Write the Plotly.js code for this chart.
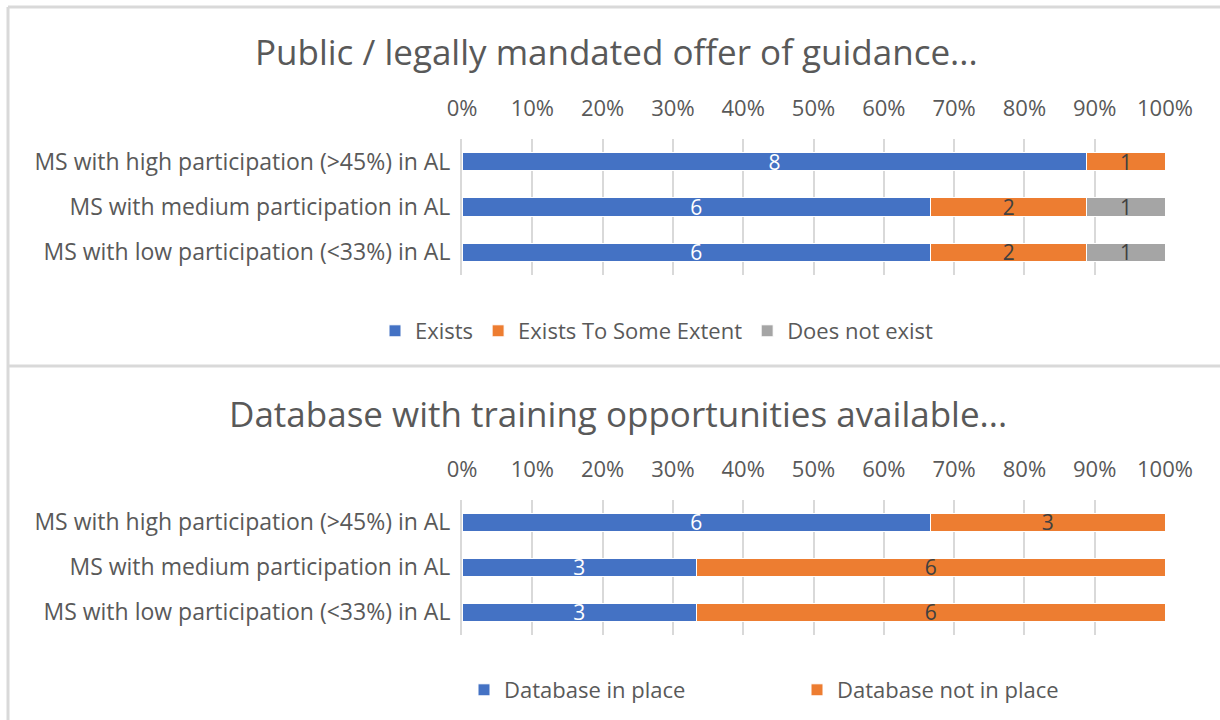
<!DOCTYPE html>
<html><head><meta charset="utf-8">
<script src="https://cdn.plot.ly/plotly-3.0.1.min.js"></script>
<style>html,body{margin:0;padding:0;background:#fff}#c{width:1220px;height:720px}</style>
</head><body><div id="c"></div>
<script>
const categories = ["MS with high participation (>45%) in AL","MS with medium participation in AL","MS with low participation (<33%) in AL"];
const title1 = "Public / legally mandated offer of guidance...";
const title2 = "Database with training opportunities available...";
const exists = [8,6,6];
const existsSome = [1,2,2];
const notExist = [0,1,1];
const dbInPlace = [6,3,3];
const dbNotInPlace = [3,6,6];
const tickVals = [0,10,20,30,40,50,60,70,80,90,100];
const tickText = tickVals.map(v=>v+"%");

const FONT = "Open Sans, Noto Sans, sans-serif";
const BLUE="#4472C4", ORANGE="#ED7D31", GRAY="#A5A5A5";
const lbl = c => ({family:FONT,size:21,color:c});
function bar(name,vals,color,tc,xa,ya,leg){
  return {type:"bar",orientation:"h",name:name,y:categories,x:vals,
    text:vals.map(v=>v?String(v):""),texttemplate:"%{text}",textposition:"inside",
    insidetextanchor:"middle",textangle:0,insidetextfont:lbl(tc),constraintext:"none",
    marker:{color:color,line:{color:"#fff",width:1}},xaxis:xa,yaxis:ya,legend:leg,hoverinfo:"skip"};
}
const data=[
  bar("Exists",exists,BLUE,"#ffffff","x","y","legend"),
  bar("Exists To Some Extent",existsSome,ORANGE,"#404040","x","y","legend"),
  bar("Does not exist",notExist,GRAY,"#404040","x","y","legend"),
  bar("Database in place",dbInPlace,BLUE,"#ffffff","x2","y2","legend2"),
  bar("Database not in place",dbNotInPlace,ORANGE,"#404040","x2","y2","legend2")
];
const xd=[462/1220,1165/1220];
const xax = (anchor)=>({domain:xd,anchor:anchor,side:"top",range:[0,100],tickvals:tickVals,ticktext:tickText,
  showgrid:true,gridcolor:"#D9D9D9",gridwidth:2,zeroline:false,showline:false,
  ticks:"outside",ticklen:13,tickcolor:"rgba(0,0,0,0)",tickfont:{family:FONT,size:22,color:"#595959"},fixedrange:true});
const yax = (anchor,dom)=>({domain:dom,anchor:anchor,autorange:"reversed",type:"category",showgrid:false,zeroline:false,
  showline:true,linecolor:"#D9D9D9",linewidth:2,ticks:"outside",ticklen:5,tickcolor:"rgba(0,0,0,0)",
  tickfont:{family:FONT,size:23,color:"#595959"},fixedrange:true});
const layout={
  width:1220,height:720,margin:{l:0,r:0,t:0,b:0},paper_bgcolor:"#fff",plot_bgcolor:"rgba(0,0,0,0)",
  barmode:"stack",barnorm:"percent",bargap:0.6,showlegend:true,
  xaxis:xax("y"),yaxis:yax("x",[1-275/720,1-139/720]),
  xaxis2:xax("y2"),yaxis2:yax("x2",[1-634.5/720,1-499.5/720]),
  legend:{orientation:"h",x:657/1220,xanchor:"center",y:1-331/720,yanchor:"middle",itemwidth:30,font:{family:FONT,size:22,color:"#595959"},traceorder:"normal",itemclick:false},
  legend2:{orientation:"h",x:797/1220,xanchor:"center",y:1-690/720,yanchor:"middle",itemwidth:30,font:{family:FONT,size:22,color:"#595959"},traceorder:"normal",entrywidth:288,itemclick:false},
  annotations:[
    {text:title1,xref:"paper",yref:"paper",x:616/1220,y:1-52/720,showarrow:false,xanchor:"center",yanchor:"middle",font:{family:FONT,size:35,color:"#595959"}},
    {text:title2,xref:"paper",yref:"paper",x:618/1220,y:1-413/720,showarrow:false,xanchor:"center",yanchor:"middle",font:{family:FONT,size:35,color:"#595959"}}
  ],
  shapes:[
    {type:"line",xref:"paper",yref:"paper",x0:8/1220,x1:1,y0:1-7/720,y1:1-7/720,line:{color:"#D9D9D9",width:3}},
    {type:"line",xref:"paper",yref:"paper",x0:8/1220,x1:8/1220,y0:1-7/720,y1:0,line:{color:"#D9D9D9",width:3}},
    {type:"line",xref:"paper",yref:"paper",x0:8/1220,x1:1,y0:1-366/720,y1:1-366/720,line:{color:"#D9D9D9",width:3}}
  ]
};
Plotly.newPlot("c",data,layout,{displayModeBar:false,staticPlot:true});
</script></body></html>
